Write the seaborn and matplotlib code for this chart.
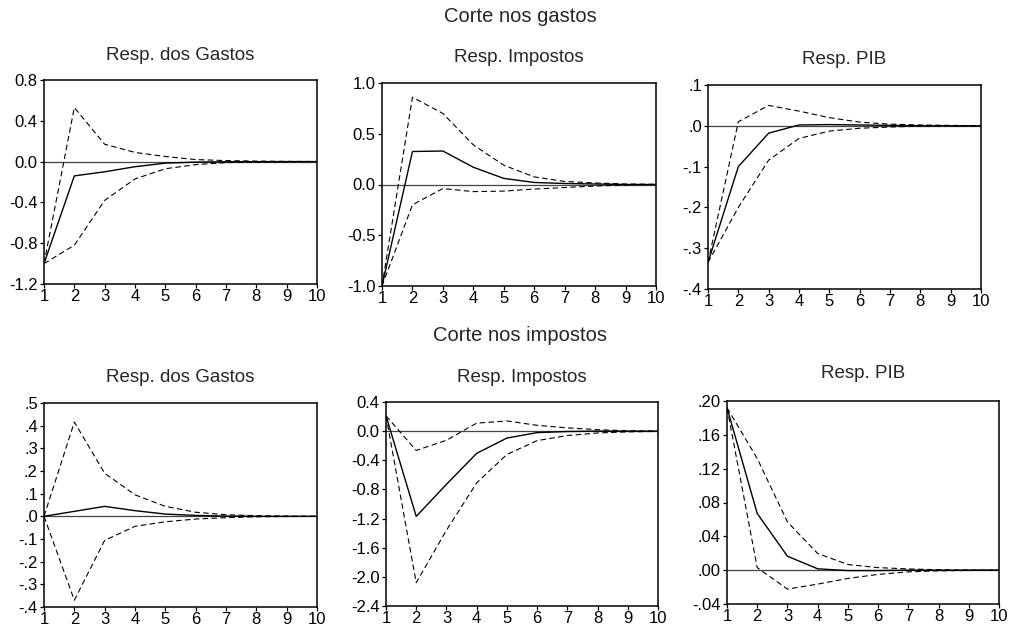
import matplotlib
matplotlib.use("Agg")
import matplotlib.pyplot as plt
import pandas as pd
import seaborn as sns

periods = [1, 2, 3, 4, 5, 6, 7, 8, 9, 10]

# ---- Corte nos gastos ----
gg_resp = [-1.0, -0.14, -0.10, -0.05, -0.015, -0.005, -0.002, -0.001, 0.0, 0.0]
gg_up = [-1.0, 0.53, 0.17, 0.09, 0.05, 0.02, 0.01, 0.005, 0.002, 0.001]
gg_lo = [-1.0, -0.82, -0.38, -0.17, -0.07, -0.03, -0.01, -0.005, -0.002, -0.001]

gi_resp = [-1.0, 0.325, 0.33, 0.17, 0.06, 0.02, 0.01, 0.005, 0.0, 0.0]
gi_up = [-1.0, 0.86, 0.70, 0.39, 0.19, 0.075, 0.03, 0.015, 0.005, 0.002]
gi_lo = [-1.0, -0.20, -0.04, -0.07, -0.065, -0.045, -0.03, -0.015, -0.005, -0.002]

gp_resp = [-0.335, -0.10, -0.018, 0.002, 0.003, 0.002, 0.001, 0.0, 0.0, 0.0]
gp_up = [-0.335, 0.01, 0.05, 0.036, 0.02, 0.009, 0.004, 0.002, 0.001, 0.0]
gp_lo = [-0.335, -0.20, -0.084, -0.031, -0.013, -0.006, -0.003, -0.001, 0.0, 0.0]

# ---- Corte nos impostos ----
ig_resp = [0.0, 0.022, 0.044, 0.025, 0.01, 0.004, 0.001, 0.0, 0.0, 0.0]
ig_up = [0.0, 0.416, 0.19, 0.095, 0.044, 0.018, 0.007, 0.003, 0.001, 0.0]
ig_lo = [0.0, -0.37, -0.106, -0.044, -0.024, -0.012, -0.006, -0.002, -0.001, 0.0]

ii_resp = [0.21, -1.17, -0.73, -0.305, -0.095, -0.02, -0.005, 0.0, 0.0, 0.0]
ii_up = [0.21, -0.265, -0.125, 0.11, 0.14, 0.08, 0.045, 0.02, 0.005, 0.002]
ii_lo = [0.21, -2.08, -1.36, -0.71, -0.32, -0.13, -0.06, -0.025, -0.01, -0.004]

ip_resp = [0.192, 0.067, 0.0165, 0.0016, -0.0005, -0.0005, 0.0, 0.0, 0.0, 0.0]
ip_up = [0.192, 0.132, 0.057, 0.0197, 0.0067, 0.003, 0.0015, 0.0005, 0.0002, 0.0]
ip_lo = [0.192, 0.003, -0.0224, -0.0165, -0.0098, -0.005, -0.002, -0.0008, -0.0003, 0.0]

# tick values and labels
yt_gg = [0.8, 0.4, 0.0, -0.4, -0.8, -1.2]
yl_gg = ["0.8", "0.4", "0.0", "-0.4", "-0.8", "-1.2"]
yt_gi = [1.0, 0.5, 0.0, -0.5, -1.0]
yl_gi = ["1.0", "0.5", "0.0", "-0.5", "-1.0"]
yt_gp = [0.1, 0.0, -0.1, -0.2, -0.3, -0.4]
yl_gp = [".1", ".0", "-.1", "-.2", "-.3", "-.4"]
yt_ig = [0.5, 0.4, 0.3, 0.2, 0.1, 0.0, -0.1, -0.2, -0.3, -0.4]
yl_ig = [".5", ".4", ".3", ".2", ".1", ".0", "-.1", "-.2", "-.3", "-.4"]
yt_ii = [0.4, 0.0, -0.4, -0.8, -1.2, -1.6, -2.0, -2.4]
yl_ii = ["0.4", "0.0", "-0.4", "-0.8", "-1.2", "-1.6", "-2.0", "-2.4"]
yt_ip = [0.20, 0.16, 0.12, 0.08, 0.04, 0.00, -0.04]
yl_ip = [".20", ".16", ".12", ".08", ".04", ".00", "-.04"]

panel_titles = ["Resp. dos Gastos", "Resp. Impostos", "Resp. PIB",
                "Resp. dos Gastos", "Resp. Impostos", "Resp. PIB"]
group_titles = ["Corte nos gastos", "Corte nos impostos"]

panels = [
    (gg_resp, gg_up, gg_lo, yt_gg, yl_gg),
    (gi_resp, gi_up, gi_lo, yt_gi, yl_gi),
    (gp_resp, gp_up, gp_lo, yt_gp, yl_gp),
    (ig_resp, ig_up, ig_lo, yt_ig, yl_ig),
    (ii_resp, ii_up, ii_lo, yt_ii, yl_ii),
    (ip_resp, ip_up, ip_lo, yt_ip, yl_ip),
]

# layout (pixel boxes: left, top, right, bottom) and title centres
W, H = 1011, 632
boxes = [(44, 80, 317, 284), (382, 83, 656, 286), (708, 85, 981, 289),
         (44, 403, 317, 607), (386, 402, 658, 606), (727, 401, 999, 604)]
title_y = [55, 57, 59, 377, 377, 373]
group_pos = [(520, 17), (520, 335)]

sns.set_style("ticks")
plt.rcParams['font.family'] = ['Liberation Sans', 'DejaVu Sans']

fig = plt.figure(figsize=(W / 100, H / 100), dpi=100)

for i, (resp, up, lo, yt, yl) in enumerate(panels):
    l, t, r, b = boxes[i]
    ax = fig.add_axes([l / W, 1 - b / H, (r - l) / W, (b - t) / H])
    df = pd.DataFrame({"periodo": periods, "resp": resp, "sup": up, "inf": lo})
    ax.axhline(0, color="#444444", lw=0.9, zorder=1)
    sns.lineplot(data=df, x="periodo", y="sup", ax=ax, color="black", lw=0.8,
                 linestyle=(0, (5, 3)), estimator=None)
    sns.lineplot(data=df, x="periodo", y="inf", ax=ax, color="black", lw=0.8,
                 linestyle=(0, (5, 3)), estimator=None)
    sns.lineplot(data=df, x="periodo", y="resp", ax=ax, color="black", lw=1.0,
                 estimator=None)
    ax.set_xlim(1, 10)
    ax.set_ylim(min(yt), max(yt))
    ax.set_xticks(periods)
    ax.set_xticklabels([str(p) for p in periods])
    ax.set_yticks(yt)
    ax.set_yticklabels(yl)
    ax.set_xlabel("")
    ax.set_ylabel("")
    for s in ax.spines.values():
        s.set_visible(True)
        s.set_color("black")
        s.set_linewidth(1.1)
    ax.tick_params(axis="both", direction="out", length=3, width=0.9,
                   labelsize=12, colors="black")
    ax.tick_params(axis="y", pad=1.5)
    ax.tick_params(axis="x", pad=0.5)
    cx = (l + r) / 2
    fig.text(cx / W, 1 - title_y[i] / H, panel_titles[i], ha="center",
             va="center", fontsize=13.5)

for txt, (x, y) in zip(group_titles, group_pos):
    fig.text(x / W, 1 - y / H, txt, ha="center", va="center", fontsize=14.5)

fig.savefig("out.png", dpi=100, facecolor="white")
